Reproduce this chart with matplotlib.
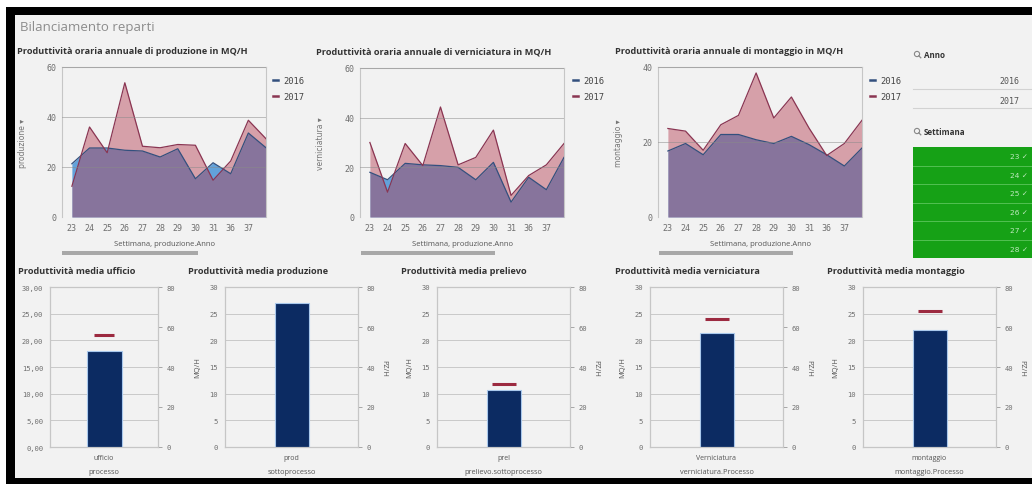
import numpy as np
import matplotlib
matplotlib.use("Agg")
import matplotlib.pyplot as plt
from matplotlib.patches import Rectangle, Circle
from matplotlib.lines import Line2D

W, H = 1032, 485

# ---- data -------------------------------------------------------------
weeks = ["23", "24", "25", "26", "27", "28", "29", "30", "31", "36", "37", "38"]
years = ["2016", "2017"]

prod_2016 = [21.3, 27.6, 27.6, 26.7, 26.4, 24.0, 27.3, 15.3, 21.7, 17.3, 33.6, 27.7]
prod_2017 = [12.3, 36.0, 25.7, 53.7, 28.3, 27.7, 29.0, 28.7, 14.7, 22.4, 38.7, 31.3]

vern_2016 = [18.0, 15.0, 21.6, 21.0, 20.7, 20.0, 15.0, 22.0, 6.0, 16.0, 11.0, 24.0]
vern_2017 = [30.0, 10.0, 29.6, 20.7, 44.3, 21.0, 24.0, 35.0, 8.7, 16.7, 21.0, 29.6]

mont_2016 = [17.6, 19.6, 16.6, 22.0, 22.0, 20.6, 19.6, 21.5, 19.3, 16.6, 13.6, 18.4]
mont_2017 = [23.6, 22.9, 17.8, 24.6, 27.1, 38.4, 26.4, 32.0, 23.7, 16.4, 19.6, 25.8]

bar_titles = ["Produttività media ufficio", "Produttività media produzione",
              "Produttività media prelievo", "Produttività media verniciatura",
              "Produttività media montaggio"]
bar_categories = ["ufficio", "prod", "prel", "Verniciatura", "montaggio"]
bar_dimensions = ["processo", "sottoprocesso", "prelievo.sottoprocesso",
                  "verniciatura.Processo", "montaggio.Processo"]
mq_per_hour = [18.0, 27.0, 10.7, 21.4, 21.9]
pz_per_hour = [55.8, None, 31.5, 64.2, 67.8]

week_filter = ["23", "24", "25", "26", "27", "28"]

# ---- style ------------------------------------------------------------
BLUE_FILL = "#62a2da"
RED_FILL = "#b63c52"
BLUE_LINE = "#33507e"
RED_LINE = "#8a3552"
BAR_FACE = "#0c2b62"
BAR_EDGE = "#a9c8ec"
MARK_RED = "#9c2a40"
SPINE = "#c6c6c6"
TICK_TXT = "#6e6e6e"
PANEL = "#f2f2f2"
MONO = "DejaVu Sans Mono"
SANS = "Open Sans"

fig = plt.figure(figsize=(W / 100, H / 100), dpi=100)
fig.patch.set_facecolor("white")


def rect(x0, y0, x1, y1):
    return [x0 / W, 1 - y1 / H, (x1 - x0) / W, (y1 - y0) / H]


# background frame and dashboard panel
bg = fig.add_axes([0, 0, 1, 1], zorder=-10)
bg.set_xlim(0, W)
bg.set_ylim(H, 0)
bg.axis("off")
bg.add_patch(Rectangle((6, 8), W - 6, H - 8, color="black", lw=0))
bg.add_patch(Rectangle((15, 16), W - 15, 463, color=PANEL, lw=0))

# overlay for free text / decorations in pixel coordinates
ov = fig.add_axes([0, 0, 1, 1], zorder=10)
ov.set_xlim(0, W)
ov.set_ylim(H, 0)
ov.axis("off")
ov.patch.set_alpha(0)

ov.text(20, 27, "Bilanciamento reparti", fontsize=9.5, color="#8c8c8c",
        family=SANS, va="center", ha="left")


def style_box(ax):
    for s in ax.spines.values():
        s.set_color(SPINE)
        s.set_linewidth(0.8)


def area_chart(px, s16, s17, ymax, yticks, ylabel, title, title_x,
               legend_x, scroll):
    x0, y0, x1, y1 = px
    ax = fig.add_axes(rect(x0, y0, x1, y1))
    ax.set_facecolor("none")
    xs = np.arange(len(weeks))
    ax.fill_between(xs, 0, s16, color=BLUE_FILL, lw=0, zorder=1)
    ax.fill_between(xs, 0, s17, color=RED_FILL, alpha=0.45, lw=0, zorder=2)
    ax.plot(xs, s16, color=BLUE_LINE, lw=0.9, zorder=3)
    ax.plot(xs, s17, color=RED_LINE, lw=0.9, zorder=3)
    for t in yticks[1:]:
        ax.axhline(t, color="#8a8a8a", lw=0.6, alpha=0.6, zorder=4)
    ax.set_xlim(-0.56, len(weeks) - 1)
    ax.set_ylim(0, ymax)
    ax.set_xticks(xs[:-1])
    ax.set_xticklabels(weeks[:-1], family=MONO, fontsize=6, color=TICK_TXT)
    ax.set_yticks(yticks)
    ax.set_yticklabels([str(t) for t in yticks], family=MONO, fontsize=6,
                       color=TICK_TXT)
    ax.tick_params(length=0, pad=4)
    ax.tick_params(axis="x", pad=4)
    style_box(ax)
    ax.spines["bottom"].set_visible(False)
    ax.set_xlabel("Settimana, produzione.Anno", fontsize=5.5, family=SANS,
                  color="#555555", labelpad=6)
    ax.set_ylabel(ylabel + " \u25be", fontsize=5.5, family=["DejaVu Sans"],
                  color="#777777", labelpad=14)
    ov.text(title_x, 52, title, fontsize=6.6, weight="bold", family=SANS,
            color="#333333", va="center", ha="left")
    for yy, col, yr in zip((81, 97), (BLUE_LINE, RED_LINE), years):
        ov.add_line(Line2D([legend_x, legend_x + 5], [yy, yy], color=col,
                           lw=1.8))
        ov.text(legend_x + 10, yy, yr, fontsize=6.3, family=MONO,
                color="#444444", va="center", ha="left")
    ov.add_patch(Rectangle((scroll[0], 251.5), scroll[1] - scroll[0], 4,
                           color="#a8a8a8", lw=0))
    return ax


area_chart((62, 68, 266, 218), prod_2016, prod_2017, 60, [0, 20, 40, 60],
           "produzione", "Produttività oraria annuale di produzione in MQ/H",
           17, 273, (62, 198))
area_chart((360, 69, 564, 218), vern_2016, vern_2017, 60, [0, 20, 40, 60],
           "verniciatura", "Produttività oraria annuale di verniciatura in MQ/H",
           316, 573, (361, 495))
area_chart((658, 68, 862, 218), mont_2016, mont_2017, 40, [0, 20, 40],
           "montaggio", "Produttività oraria annuale di montaggio in MQ/H",
           615, 870, (659, 793))

# ---- filter panel -------------------------------------------------------


def magnifier(cx, cy):
    ov.add_patch(Circle((cx, cy), 2.6, fill=False, ec="#888888", lw=0.8))
    ov.add_line(Line2D([cx + 1.8, cx + 3.8], [cy + 1.8, cy + 3.8],
                       color="#888888", lw=0.9))


magnifier(917, 55)
ov.text(924, 56, "Anno", fontsize=5.8, weight="bold", family=SANS,
        color="#333333", va="center")
for yy, yr in zip((82, 101), years):
    ov.text(1019, yy, yr, fontsize=6, family=MONO, color="#555555",
            va="center", ha="right")
for yy in (90, 109):
    ov.add_line(Line2D([913, W], [yy, yy], color="#d2d2d2", lw=0.8))

magnifier(917, 132)
ov.text(924, 133, "Settimana", fontsize=5.8, weight="bold", family=SANS,
        color="#333333", va="center")
row_h = 18.5
top = 148
ov.add_patch(Rectangle((913, top), W - 913, row_h * len(week_filter),
                       color="#16a116", lw=0))
for i, wk in enumerate(week_filter):
    yc = top + row_h * (i + 0.5)
    ov.text(1028, yc, wk + " \u2713", fontsize=5.3, family=["DejaVu Sans"],
            color="#bfeabf", va="center", ha="right")
    if i > 0:
        ov.add_line(Line2D([913, W], [top + row_h * i] * 2, color="#52c052",
                           lw=0.7))

# ---- bar charts ------------------------------------------------------------
bar_boxes = [(50, 158), (225, 358), (437, 570), (650, 783), (863, 996)]
title_xs = [18, 188, 401, 615, 827]
bar_widths_px = [35, 34, 34, 34, 34]
mark_widths_px = [20, 24, 24, 24, 24]

for i in range(len(bar_categories)):
    bx0, bx1 = bar_boxes[i]
    ax = fig.add_axes(rect(bx0, 288, bx1, 448))
    ax.set_facecolor("none")
    span = bx1 - bx0
    bw = bar_widths_px[i] / span
    ax.bar([0], [mq_per_hour[i]], width=bw, color=BAR_FACE,
           edgecolor=BAR_EDGE, lw=0.8, zorder=3)
    ax.set_xlim(-0.5, 0.5)
    ax.set_ylim(0, 30)
    yt = np.arange(0, 31, 5)
    ax.set_yticks(yt)
    if i == 0:
        lbls = [f"{v:.2f}".replace(".", ",") for v in yt]
    else:
        lbls = [str(v) for v in yt]
    ax.set_yticklabels(lbls, family=MONO, fontsize=5.1, color=TICK_TXT)
    ax.grid(axis="y", color="#c9c9c9", lw=0.7, zorder=0)
    ax.set_xticks([0])
    ax.set_xticklabels([bar_categories[i]], fontsize=5, family=SANS,
                       color="#555555")
    ax.tick_params(length=0, pad=5)
    ax.set_xlabel(bar_dimensions[i], fontsize=5.3, family=SANS,
                  color="#555555", labelpad=5)
    style_box(ax)
    ax2 = ax.twinx()
    ax2.set_ylim(0, 80)
    ax2.set_yticks(np.arange(0, 81, 20))
    ax2.set_yticklabels([str(v) for v in range(0, 81, 20)], family=MONO,
                        fontsize=5.1, color=TICK_TXT)
    ax2.tick_params(axis="y", length=3, width=0.6, color="#9a9a9a", pad=3)
    style_box(ax2)
    if pz_per_hour[i] is not None:
        mw = mark_widths_px[i] / span
        ax2.hlines(pz_per_hour[i], -mw / 2, mw / 2, color=MARK_RED, lw=2.2,
                   zorder=5)
    if i > 0:
        ax.set_ylabel("MQ/H", fontsize=5.3, family=SANS, color="#555555",
                      labelpad=6)
        ax2.set_ylabel("PZ/H", fontsize=5.3, family=SANS, color="#555555",
                       rotation=270, labelpad=9)
    ov.text(title_xs[i], 272, bar_titles[i], fontsize=6.6, weight="bold",
            family=SANS, color="#333333", va="center", ha="left")

fig.savefig("out.png", dpi=100, facecolor=fig.get_facecolor())
